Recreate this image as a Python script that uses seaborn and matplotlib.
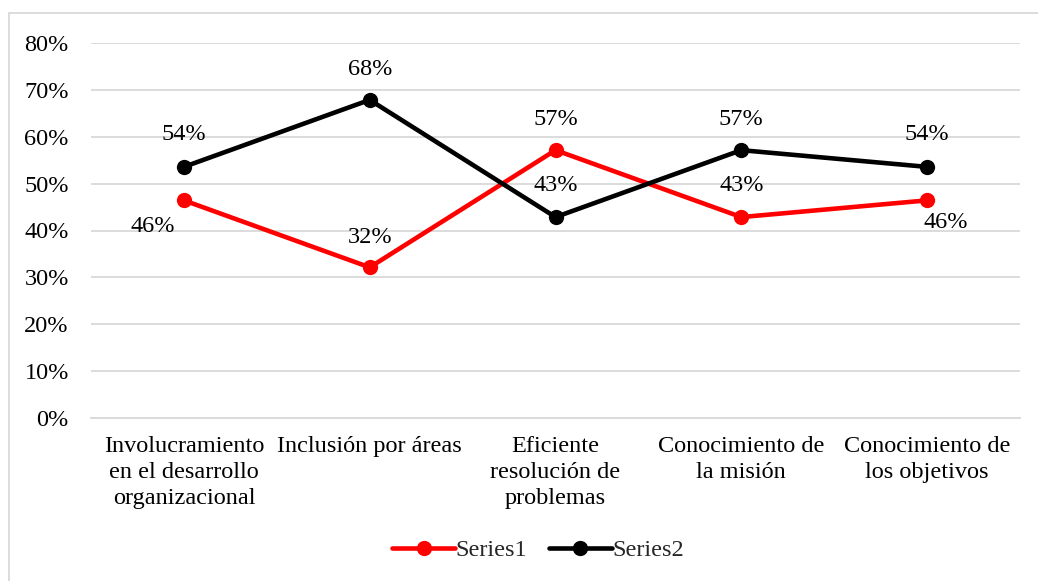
import matplotlib
matplotlib.use("Agg")
import matplotlib.pyplot as plt
import matplotlib.patches as mpatches
from matplotlib.ticker import PercentFormatter
import seaborn as sns
import pandas as pd

# Data
categories = [
    "Involucramiento\nen el desarrollo\norganizacional",
    "Inclusión por áreas",
    "Eficiente\nresolución de\nproblemas",
    "Conocimiento de\nla misión",
    "Conocimiento de\nlos objetivos",
]
series1 = [0.4643, 0.3214, 0.5714, 0.4286, 0.4643]
series2 = [0.5357, 0.6786, 0.4286, 0.5714, 0.5357]
series_names = ["Series1", "Series2"]
y_ticks = [0.0, 0.1, 0.2, 0.3, 0.4, 0.5, 0.6, 0.7, 0.8]

df = pd.DataFrame({
    "idx": list(range(len(categories))) * 2,
    "value": series1 + series2,
    "series": [series_names[0]] * len(series1) + [series_names[1]] * len(series2),
})

FS = 17.5

sns.set_theme(style="white")
plt.rcParams["font.family"] = ["Liberation Serif", "DejaVu Serif"]
plt.rcParams["font.size"] = FS

fig = plt.figure(figsize=(10.38, 5.81), dpi=100)
ax = fig.add_axes([91 / 1038, (581 - 418) / 581, (1020 - 91) / 1038, (418 - 43) / 581])

palette = {"Series1": "#ff0000", "Series2": "#000000"}
sns.lineplot(data=df, x="idx", y="value", hue="series", palette=palette,
             marker="o", markersize=11, markeredgewidth=0, linewidth=3.3,
             ax=ax, legend=False, zorder=3)

# Value labels (offsets in pixels: dx, dy downward positive)
offsets1 = [(-31, 26), (0, -30), (0, -31), (0, -32), (19, 22)]
offsets2 = [(0, -32), (0, -30), (0, -32), (0, -31), (0, -32)]
for vals, offs in ((series1, offsets1), (series2, offsets2)):
    for i, (v, (dx, dy)) in enumerate(zip(vals, offs)):
        ax.annotate(f"{v * 100:.0f}%", xy=(i, v),
                    xytext=(dx * 0.72, -dy * 0.72), textcoords="offset points",
                    ha="center", va="center", fontsize=FS, color="#000000",
                    zorder=5)

ax.set_xlim(-0.5, len(categories) - 0.5)
ax.set_ylim(0, 0.8)
ax.set_yticks(y_ticks)
ax.yaxis.set_major_formatter(PercentFormatter(1.0, decimals=0))
ax.set_xticks(range(len(categories)))
ax.set_xticklabels(categories, linespacing=1.3)
ax.set_xlabel("")
ax.set_ylabel("")
ax.tick_params(axis="x", length=0, pad=13, labelsize=FS, colors="#000000")
ax.tick_params(axis="y", length=0, pad=16, labelsize=FS, colors="#000000")
for lbl in ax.get_xticklabels():
    lbl.set_va("top")

ax.grid(axis="y", color="#d9d9d9", linewidth=1.3, zorder=0)
ax.set_axisbelow(True)
for s in ax.spines.values():
    s.set_visible(False)
ax.spines["bottom"].set_visible(True)
ax.spines["bottom"].set_color("#d9d9d9")
ax.spines["bottom"].set_linewidth(1.3)

# Legend
handles = [
    plt.Line2D([], [], color=palette[n], marker="o", markersize=11,
               markeredgewidth=0, linewidth=3.3) for n in series_names
]
fig.legend(handles, series_names, loc="center",
           bbox_to_anchor=(538 / 1038, (581 - 550) / 581), ncol=2,
           frameon=False, fontsize=FS, handlelength=2.6, handletextpad=0.0,
           columnspacing=0.9)

# Outer chart border
fig.patches.append(mpatches.Rectangle(
    (9 / 1038, -0.05), 1.1, (581 - 13) / 581 + 0.05,
    transform=fig.transFigure, fill=False, edgecolor="#d9d9d9",
    linewidth=1.3, clip_on=False))

fig.savefig("out.png", dpi=100)
